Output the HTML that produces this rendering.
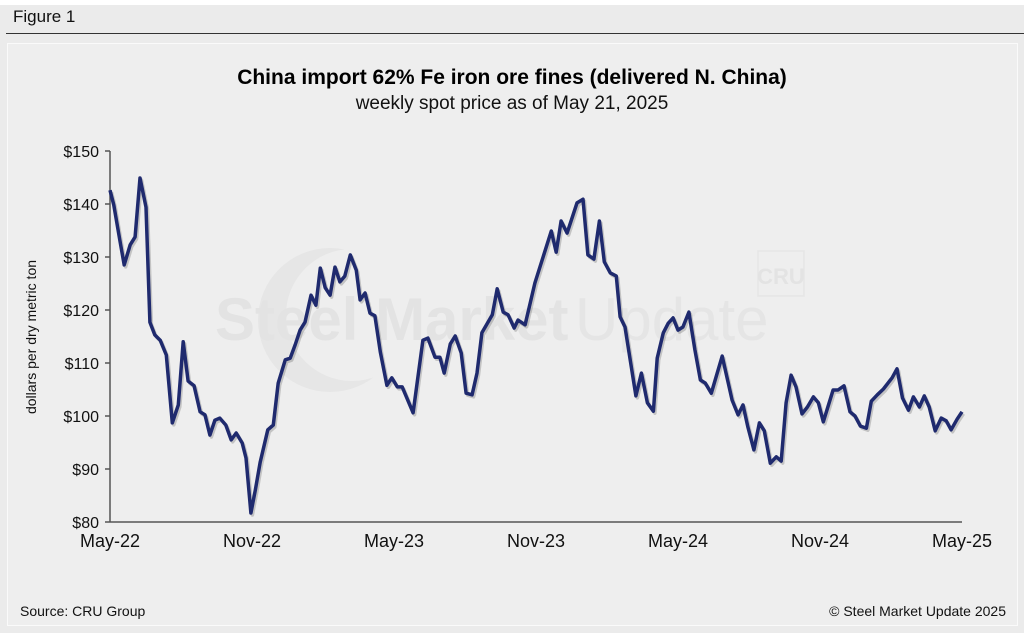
<!DOCTYPE html>
<html><head><meta charset="utf-8"><style>
body{margin:0;width:1024px;height:633px;background:#ebebeb;font-family:"Liberation Sans",Arial,sans-serif;overflow:hidden;position:relative}
</style></head><body>
<div style="position:absolute;left:0;top:0;width:1024px;height:5px;background:#fff"></div>
<div style="position:absolute;left:13px;top:7px;font-size:17px;color:#111">Figure 1</div>
<div style="position:absolute;left:6px;top:33px;width:1018px;height:1px;background:#333"></div>
<svg width="1024" height="633" style="position:absolute;left:0;top:0" xmlns="http://www.w3.org/2000/svg">
<rect x="7.5" y="43.5" width="1010" height="582" fill="#eeeeee" stroke="#fafafa"/>
<g>
<circle cx="330" cy="320" r="72" fill="#e6e6e6"/>
<circle cx="352" cy="315" r="66" fill="#eeeeee"/>
<text x="215" y="340" font-size="60" font-weight="bold" fill="#e3e3e3">Steel Market</text>
<text x="575" y="340" font-size="60" fill="#e5e5e5">Update</text>
<rect x="758" y="251" width="46" height="45" fill="none" stroke="#e5e5e5" stroke-width="1.5"/>
<text x="781" y="284" font-size="22" font-weight="bold" text-anchor="middle" fill="#e3e3e3">CRU</text>
</g>
<text x="512" y="84" font-size="21" font-weight="bold" text-anchor="middle" fill="#000">China import 62% Fe iron ore fines (delivered N. China)</text>
<text x="512" y="109" font-size="19" text-anchor="middle" fill="#111">weekly spot price as of May 21, 2025</text>
<text transform="translate(36,337) rotate(-90)" font-size="14" text-anchor="middle" fill="#111">dollars per dry metric ton</text>
<g id="axes"></g>
<g id="series"></g>
<text x="20" y="616" font-size="14" fill="#111">Source: CRU Group</text>
<text x="1006" y="616" font-size="14" text-anchor="end" fill="#111">© Steel Market Update 2025</text>
</svg>
<script>
const weeks=[0,0.7,1.8,2.6,3.7,4.6,5.5,6.6,7.3,8.2,9.2,10.3,11.4,12.5,13.4,14.3,15.4,16.5,17.4,18.3,19.2,20.1,21.2,22.2,23.1,24.2,24.9,25.8,26.6,27.5,28.9,29.9,30.8,32.1,33,33.9,34.8,35.7,36.8,37.7,38.5,39.4,40.3,41.2,42.1,43,44,45.1,45.8,46.7,47.6,48.5,49.5,50.7,51.6,52.6,53.5,55.5,57.3,58.2,59.5,60.4,61.2,62.3,63.2,64.3,65.2,66.3,67.2,68.1,70,70.9,72,72.9,74,74.7,76,77.8,79.3,80.8,81.7,82.6,83.7,85.5,86.6,87.5,88.6,89.6,90.5,91.6,92.7,93.4,94.3,96.3,97.3,98.4,99.5,100.2,101.3,102.2,103.1,104,104.9,106,107.1,108.1,109,110.1,112.1,113.9,115,115.9,116.8,117.9,118.9,119.8,120.9,122,122.9,123.8,124.7,125.6,126.7,127.7,128.8,129.7,130.6,132.4,133.3,134.4,135.5,136.4,137.4,138.5,139.4,140.5,141.6,143.2,144.1,145.1,146.2,147.1,148.2,149.1,150,151.1,152.2,153.1,154,155.1,156];
const prices=[142.6,139.8,133.2,128.5,132.3,133.8,144.9,139.4,117.7,115.3,114.3,111.5,98.7,102.1,114,106.6,105.7,100.8,100.2,96.4,99.2,99.6,98.3,95.5,96.8,94.9,92.1,81.7,86,91.3,97.4,98.3,106.2,110.6,110.9,113.4,116.2,117.7,122.8,120.9,127.9,124.2,122.8,128.1,125.3,126.4,130.4,127.5,121.9,123.2,119.4,118.9,112.1,105.8,107.2,105.5,105.5,100.6,114.3,114.7,111.1,111.1,108.1,113.6,115.1,111.9,104.3,104,108.1,115.7,119.1,124,119.6,119.1,116.6,118.1,117.2,125.1,130,134.9,130.9,136.8,134.5,140.2,140.9,130.4,129.6,136.8,129.1,127,126.4,118.7,116.8,103.8,108.1,102.5,100.9,110.9,115.7,117.5,118.5,116.2,116.8,119.6,112.5,106.8,106.2,104.3,111.3,103,100.2,102.1,97.9,93.6,98.7,97.2,91.1,92.3,91.5,102.5,107.7,105.5,100.4,101.7,103.6,102.5,98.9,104.9,104.9,105.7,100.8,100,98.1,97.7,102.8,104,105.1,107.2,108.9,103.4,101.1,103.6,101.7,103.8,101.7,97.2,99.6,99.1,97.4,99.4,100.8];
const yTicks=[80,90,100,110,120,130,140,150];
const yTickLabels=["$80","$90","$100","$110","$120","$130","$140","$150"];
const xTicks=[0,26,52,78,104,130,156];
const xTickLabels=["May-22","Nov-22","May-23","Nov-23","May-24","Nov-24","May-25"];
const X0=110,X1=962,Y0=522,Y1=151;
const xs=w=>X0+(w-0)/(156-0)*(X1-X0);
const ys=v=>Y0-(v-80)/(150-80)*(Y0-Y1);
const NS="http://www.w3.org/2000/svg";
const ax=document.getElementById('axes');
function mk(tag,attrs,parent){const e=document.createElementNS(NS,tag);for(const k in attrs)e.setAttribute(k,attrs[k]);parent.appendChild(e);return e;}
let yl=mk('line',{x1:X0,y1:Y1,x2:X0,y2:Y0,stroke:'#555','stroke-width':1.5},ax);


let xl=mk('line',{x1:X0,y1:Y0,x2:X1,y2:Y0,stroke:'#555','stroke-width':1.5},ax);


yTicks.forEach((v,i)=>{
 const t=mk('line',{x1:X0-5,x2:X0,y1:ys(v),y2:ys(v),stroke:'#555','stroke-width':1.5},ax);
 
 
 const l=mk('text',{x:X0-11,y:ys(v)+6,'font-size':16,'text-anchor':'end',fill:'#111'},ax);
 l.textContent=yTickLabels[i];
 
 
});
xTicks.forEach((w,i)=>{
 const l=mk('text',{x:xs(w),y:547,'font-size':18,'text-anchor':'middle',fill:'#111'},ax);
 l.textContent=xTickLabels[i];
 
 
});
const pts=weeks.map((w,i)=>xs(w).toFixed(1)+','+ys(prices[i]).toFixed(1)).join(' ');
const sg=document.getElementById('series');
const sh=mk('polyline',{points:pts,fill:'none',stroke:'rgba(0,0,0,0.18)','stroke-width':3.5,'stroke-linejoin':'round',transform:'translate(1.5,2)'},sg);


const pl=mk('polyline',{points:pts,fill:'none',stroke:'#1f2a6e','stroke-width':3.5,'stroke-linejoin':'round'},sg);


</script>
</body></html>
